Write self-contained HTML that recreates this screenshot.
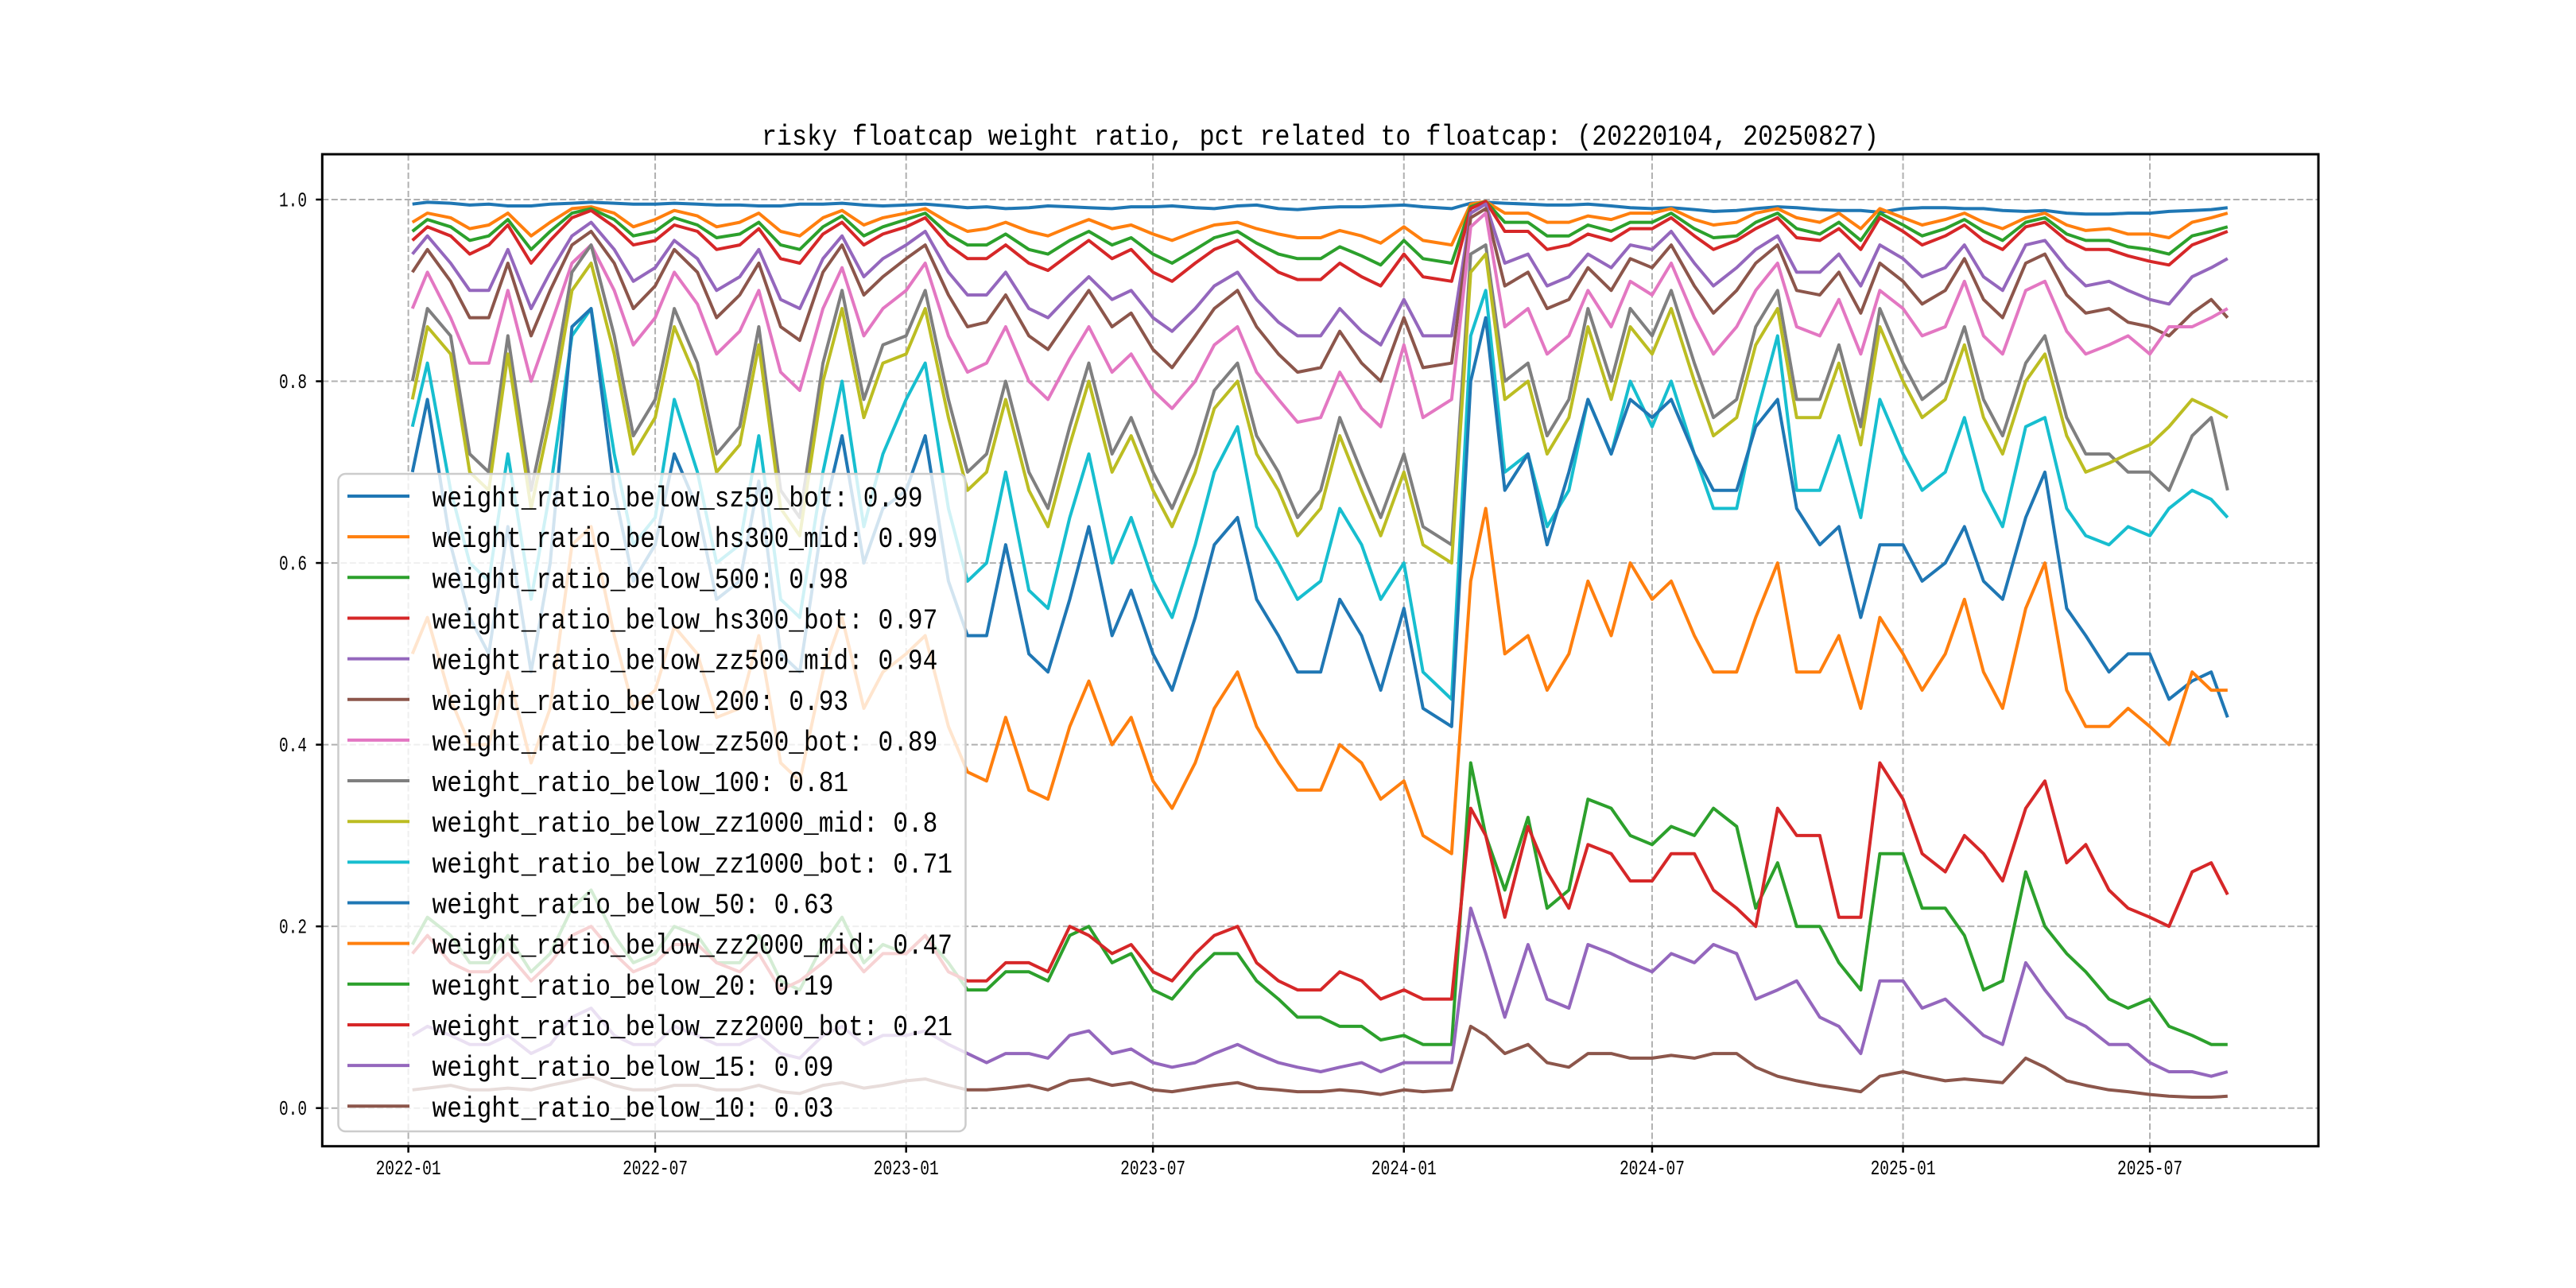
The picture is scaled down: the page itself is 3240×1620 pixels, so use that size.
<!DOCTYPE html>
<html><head><meta charset="utf-8"><style>
html,body{margin:0;padding:0;background:#fff;}
svg{display:block;}
</style></head><body>
<svg id="chart" xmlns="http://www.w3.org/2000/svg" width="3240" height="1620" viewBox="0 0 3240 1620">
<rect x="0" y="0" width="3240" height="1620" fill="#fff"/>
<text x="958" y="182" font-family="Liberation Mono, monospace" font-size="36" textLength="1405" lengthAdjust="spacingAndGlyphs">risky floatcap weight ratio, pct related to floatcap: (20220104, 20250827)</text>
<g id="grid"></g>
<g id="series"></g>
<g id="axes"></g>
<g id="legend"></g>
</svg>
<script>
const dates = [
"2022-01-04","2022-01-15","2022-02-01","2022-02-15","2022-03-01","2022-03-15","2022-04-01","2022-04-15","2022-05-01","2022-05-15","2022-06-01","2022-06-15","2022-07-01","2022-07-15","2022-08-01","2022-08-15","2022-09-01","2022-09-15","2022-10-01","2022-10-15","2022-11-01","2022-11-15","2022-12-01","2022-12-15",
"2023-01-01","2023-01-15","2023-02-01","2023-02-15","2023-03-01","2023-03-15","2023-04-01","2023-04-15","2023-05-01","2023-05-15","2023-06-01","2023-06-15","2023-07-01","2023-07-15","2023-08-01","2023-08-15","2023-09-01","2023-09-15","2023-10-01","2023-10-15","2023-11-01","2023-11-15","2023-12-01","2023-12-15",
"2024-01-01","2024-01-15","2024-02-05","2024-02-19","2024-03-01","2024-03-15","2024-04-01","2024-04-15","2024-05-01","2024-05-15","2024-06-01","2024-06-15","2024-07-01","2024-07-15","2024-08-01","2024-08-15","2024-09-01","2024-09-15","2024-10-01","2024-10-15","2024-11-01","2024-11-15","2024-12-01","2024-12-15",
"2025-01-01","2025-01-15","2025-02-01","2025-02-15","2025-03-01","2025-03-15","2025-04-01","2025-04-15","2025-05-01","2025-05-15","2025-06-01","2025-06-15","2025-07-01","2025-07-15","2025-08-01","2025-08-15","2025-08-27"];
const seriesNames = ["weight_ratio_below_sz50_bot","weight_ratio_below_hs300_mid","weight_ratio_below_500","weight_ratio_below_hs300_bot","weight_ratio_below_zz500_mid","weight_ratio_below_200","weight_ratio_below_zz500_bot","weight_ratio_below_100","weight_ratio_below_zz1000_mid","weight_ratio_below_zz1000_bot","weight_ratio_below_50","weight_ratio_below_zz2000_mid","weight_ratio_below_20","weight_ratio_below_zz2000_bot","weight_ratio_below_15","weight_ratio_below_10"];
const legendValues = ["0.99","0.99","0.98","0.97","0.94","0.93","0.89","0.81","0.8","0.71","0.63","0.47","0.19","0.21","0.09","0.03"];
const sz50Bot = [.995,.997,.996,.994,.995,.993,.993,.995,.996,.997,.996,.995,.995,.996,.995,.994,.994,.993,.993,.995,.995,.996,.994,.993,
.994,.995,.993,.991,.992,.990,.991,.993,.992,.991,.990,.992,.992,.993,.991,.990,.993,.994,.990,.989,.991,.992,.992,.993,
.994,.992,.990,.996,.997,.996,.995,.994,.994,.995,.993,.991,.990,.991,.989,.987,.988,.990,.992,.991,.989,.988,.988,.986,
.990,.991,.991,.990,.990,.988,.987,.988,.985,.984,.984,.985,.985,.987,.988,.989,.991];
const hs300Mid = [.975,.985,.980,.968,.972,.985,.960,.975,.990,.992,.985,.970,.978,.988,.982,.970,.975,.985,.965,.960,.980,.988,.972,.980,
.985,.990,.975,.965,.968,.975,.965,.960,.970,.978,.968,.972,.962,.955,.965,.972,.975,.968,.962,.958,.958,.966,.960,.952,
.970,.955,.950,.995,.998,.985,.985,.975,.975,.982,.978,.985,.985,.990,.978,.972,.975,.985,.990,.980,.975,.985,.968,.990,
.980,.972,.978,.985,.975,.968,.980,.985,.972,.966,.968,.962,.962,.958,.975,.980,.985];
const below500 = [.965,.978,.970,.955,.960,.978,.945,.965,.985,.990,.978,.960,.965,.980,.972,.958,.962,.975,.950,.945,.970,.982,.960,.970,
.978,.985,.962,.950,.950,.962,.945,.940,.955,.965,.950,.958,.940,.930,.945,.958,.965,.952,.940,.935,.935,.948,.938,.928,
.955,.935,.930,.992,.998,.975,.975,.960,.960,.972,.965,.975,.975,.985,.968,.958,.960,.975,.985,.968,.962,.975,.955,.985,
.972,.960,.968,.978,.965,.955,.975,.980,.962,.955,.955,.948,.945,.940,.960,.965,.970];
const hs300Bot = [.955,.970,.960,.940,.950,.972,.930,.955,.980,.988,.970,.950,.955,.972,.965,.945,.950,.968,.935,.930,.962,.975,.950,.962,
.970,.980,.950,.935,.935,.950,.930,.922,.940,.955,.935,.945,.920,.910,.930,.945,.955,.938,.920,.912,.912,.930,.915,.905,
.940,.915,.910,.990,.998,.965,.965,.945,.950,.962,.955,.968,.968,.980,.960,.945,.955,.968,.980,.958,.955,.968,.945,.980,
.965,.950,.960,.972,.955,.945,.970,.975,.955,.945,.945,.938,.932,.928,.950,.958,.965];
const zz500Mid = [.940,.960,.930,.900,.900,.945,.880,.920,.960,.975,.945,.910,.925,.955,.935,.900,.915,.945,.890,.880,.935,.960,.915,.935,
.950,.965,.920,.895,.895,.920,.880,.870,.895,.915,.890,.900,.870,.855,.880,.905,.920,.890,.865,.850,.850,.880,.855,.840,
.890,.850,.850,.985,.995,.930,.940,.905,.915,.940,.925,.950,.945,.965,.930,.905,.925,.945,.960,.920,.920,.940,.905,.950,
.935,.915,.925,.950,.915,.900,.950,.955,.925,.905,.910,.900,.890,.885,.915,.925,.935];
const below200 = [.920,.945,.910,.870,.870,.930,.850,.900,.950,.965,.930,.880,.905,.945,.920,.870,.895,.930,.860,.845,.920,.950,.895,.915,
.935,.950,.895,.860,.865,.895,.850,.835,.870,.900,.860,.875,.835,.815,.850,.880,.900,.860,.830,.810,.815,.855,.820,.800,
.870,.815,.820,.980,.990,.905,.920,.880,.890,.925,.900,.935,.925,.950,.905,.875,.900,.930,.950,.900,.895,.920,.875,.930,
.910,.885,.900,.935,.890,.870,.930,.940,.895,.875,.880,.865,.860,.850,.875,.890,.870];
const zz500Bot = [.880,.920,.870,.820,.820,.900,.800,.860,.930,.950,.900,.840,.870,.920,.885,.830,.855,.900,.810,.790,.880,.925,.850,.880,
.900,.930,.850,.810,.820,.860,.800,.780,.825,.860,.810,.830,.790,.770,.800,.840,.860,.810,.780,.755,.760,.810,.770,.750,
.840,.760,.780,.970,.985,.860,.880,.830,.850,.900,.860,.910,.895,.930,.870,.830,.860,.900,.930,.860,.850,.890,.830,.900,
.880,.850,.860,.910,.850,.830,.900,.910,.855,.830,.840,.850,.830,.860,.860,.870,.880];
const below100 = [.800,.880,.850,.720,.700,.850,.680,.780,.920,.950,.850,.740,.780,.880,.820,.720,.750,.860,.680,.650,.820,.900,.780,.840,
.850,.900,.780,.700,.720,.800,.700,.660,.750,.820,.720,.760,.700,.660,.720,.790,.820,.740,.700,.650,.680,.760,.700,.650,
.720,.640,.620,.940,.950,.800,.820,.740,.780,.880,.800,.880,.850,.900,.820,.760,.780,.860,.900,.780,.780,.840,.750,.880,
.820,.780,.800,.860,.780,.740,.820,.850,.760,.720,.720,.700,.700,.680,.740,.760,.680];
const zz1000Mid = [.780,.860,.830,.700,.680,.830,.660,.760,.900,.930,.830,.720,.760,.860,.800,.700,.730,.840,.660,.630,.800,.880,.760,.820,
.830,.880,.760,.680,.700,.780,.680,.640,.730,.800,.700,.740,.680,.640,.700,.770,.800,.720,.680,.630,.660,.740,.680,.630,
.700,.620,.600,.920,.940,.780,.800,.720,.760,.860,.780,.860,.830,.880,.800,.740,.760,.840,.880,.760,.760,.820,.730,.860,
.800,.760,.780,.840,.760,.720,.800,.830,.740,.700,.710,.720,.730,.750,.780,.770,.760];
const zz1000Bot = [.750,.820,.680,.600,.580,.720,.560,.680,.850,.880,.720,.620,.650,.780,.700,.600,.620,.740,.560,.540,.700,.800,.640,.720,
.780,.820,.660,.580,.600,.700,.570,.550,.650,.720,.600,.650,.580,.540,.620,.700,.750,.640,.600,.560,.580,.660,.620,.560,
.600,.480,.450,.850,.900,.700,.720,.640,.680,.780,.720,.800,.750,.800,.720,.660,.660,.760,.850,.680,.680,.740,.650,.780,
.720,.680,.700,.760,.680,.640,.750,.760,.660,.630,.620,.640,.630,.660,.680,.670,.650];
const below50 = [.700,.780,.620,.540,.500,.640,.480,.600,.860,.880,.680,.580,.620,.720,.660,.560,.580,.690,.500,.480,.650,.740,.600,.660,
.680,.740,.580,.520,.520,.620,.500,.480,.560,.640,.520,.570,.500,.460,.540,.620,.650,.560,.520,.480,.480,.560,.520,.460,
.550,.440,.420,.800,.870,.680,.720,.620,.700,.780,.720,.780,.760,.780,.720,.680,.680,.750,.780,.660,.620,.640,.540,.620,
.620,.580,.600,.640,.580,.560,.650,.700,.550,.520,.480,.500,.500,.450,.470,.480,.430];
const zz2000Mid = [.500,.540,.450,.400,.400,.480,.380,.440,.620,.640,.520,.440,.460,.530,.500,.430,.440,.520,.380,.360,.480,.540,.440,.480,
.500,.520,.420,.370,.360,.430,.350,.340,.420,.470,.400,.430,.360,.330,.380,.440,.480,.420,.380,.350,.350,.400,.380,.340,
.360,.300,.280,.580,.660,.500,.520,.460,.500,.580,.520,.600,.560,.580,.520,.480,.480,.540,.600,.480,.480,.520,.440,.540,
.500,.460,.500,.560,.480,.440,.550,.600,.460,.420,.420,.440,.420,.400,.480,.460,.460];
const below20 = [.180,.210,.190,.160,.160,.190,.150,.170,.220,.240,.190,.160,.170,.200,.190,.160,.160,.190,.140,.130,.180,.210,.160,.180,
.170,.190,.160,.130,.130,.150,.150,.140,.190,.200,.160,.170,.130,.120,.150,.170,.170,.140,.120,.100,.100,.090,.090,.075,
.080,.070,.070,.380,.300,.240,.320,.220,.240,.340,.330,.300,.290,.310,.300,.330,.310,.220,.270,.200,.200,.160,.130,.280,
.280,.220,.220,.190,.130,.140,.260,.200,.170,.150,.120,.110,.120,.090,.080,.070,.070];
const zz2000Bot = [.170,.190,.160,.150,.150,.170,.140,.160,.190,.200,.170,.150,.160,.180,.180,.160,.150,.170,.130,.140,.160,.180,.150,.170,
.170,.190,.150,.140,.140,.160,.160,.150,.200,.190,.170,.180,.150,.140,.170,.190,.200,.160,.140,.130,.130,.150,.140,.120,
.130,.120,.120,.330,.300,.210,.310,.260,.220,.290,.280,.250,.250,.280,.280,.240,.220,.200,.330,.300,.300,.210,.210,.380,
.340,.280,.260,.300,.280,.250,.330,.360,.270,.290,.240,.220,.210,.200,.260,.270,.235];
const below15 = [.080,.090,.080,.070,.070,.080,.060,.070,.100,.110,.080,.070,.070,.090,.080,.070,.070,.080,.060,.055,.080,.090,.070,.080,
.080,.085,.070,.060,.050,.060,.060,.055,.080,.085,.060,.065,.050,.045,.050,.060,.070,.060,.050,.045,.040,.045,.050,.040,
.050,.050,.050,.220,.170,.100,.180,.120,.110,.180,.170,.160,.150,.170,.160,.180,.170,.120,.130,.140,.100,.090,.060,.140,
.140,.110,.120,.100,.080,.070,.160,.130,.100,.090,.070,.070,.050,.040,.040,.035,.040];
const below10 = [.020,.022,.025,.020,.020,.022,.020,.025,.030,.035,.025,.020,.020,.025,.025,.020,.020,.025,.018,.016,.025,.028,.022,.025,
.030,.032,.025,.020,.020,.022,.025,.020,.030,.032,.025,.028,.020,.018,.022,.025,.028,.022,.020,.018,.018,.020,.018,.015,
.020,.018,.020,.090,.080,.060,.070,.050,.045,.060,.060,.055,.055,.058,.055,.060,.060,.045,.035,.030,.025,.022,.018,.035,
.040,.035,.030,.032,.030,.028,.055,.045,.030,.025,.020,.018,.015,.013,.012,.012,.013];
const seriesValues = [sz50Bot,hs300Mid,below500,hs300Bot,zz500Mid,below200,zz500Bot,below100,zz1000Mid,zz1000Bot,below50,zz2000Mid,below20,zz2000Bot,below15,below10];
const xTickLabels = ["2022-01","2022-07","2023-01","2023-07","2024-01","2024-07","2025-01","2025-07"];
const yTickValues = [0,0.2,0.4,0.6,0.8,1.0];
const yTickLabels = ["0.0","0.2","0.4","0.6","0.8","1.0"];

const colors = ["#1f77b4","#ff7f0e","#2ca02c","#d62728","#9467bd","#8c564b","#e377c2","#7f7f7f","#bcbd22","#17becf"];
const NS = "http://www.w3.org/2000/svg";
const AX = {l:405.3, r:2916, t:194, b:1441.7};
const base = Date.UTC(2022,0,1);
function dayOf(s){const p=s.split("-");return (Date.UTC(+p[0],+p[1]-1,+(p[2]||1))-base)/86400000;}
function xScale(s){return 513.6 + dayOf(s)*1.7153;}
function yScale(v){return 1393.7 - v*1142.7;}
function mk(tag, attrs, parent){const e=document.createElementNS(NS,tag);for(const k in attrs)e.setAttribute(k,attrs[k]);parent.appendChild(e);return e;}

const grid=document.getElementById("grid"), series=document.getElementById("series"), axes=document.getElementById("axes"), legend=document.getElementById("legend");

xTickLabels.forEach(t=>{
  const x=xScale(t+"-01");
  const g=mk("line",{x1:x,x2:x,y1:AX.t,y2:AX.b,stroke:"#b0b0b0","stroke-width":2,"stroke-dasharray":"8,3.5"},grid);
  
  
});
yTickValues.forEach(v=>{
  const y=yScale(v);
  const g=mk("line",{x1:AX.l,x2:AX.r,y1:y,y2:y,stroke:"#b0b0b0","stroke-width":2,"stroke-dasharray":"8,3.5"},grid);
  
  
});

seriesValues.forEach((vals,i)=>{
  const d=vals.map((v,j)=>(j?"L":"M")+xScale(dates[j]).toFixed(1)+","+yScale(v).toFixed(1)).join("");
  const p=mk("path",{d:d,fill:"none",stroke:colors[i%10],"stroke-width":4,"stroke-linejoin":"round"},series);
  
  
});

const sp=mk("rect",{x:AX.l,y:AX.t,width:AX.r-AX.l,height:AX.b-AX.t,fill:"none",stroke:"#000","stroke-width":3},axes);


xTickLabels.forEach(t=>{
  const x=xScale(t+"-01");
  const tk=mk("line",{x1:x,x2:x,y1:AX.b,y2:AX.b+8,stroke:"#000","stroke-width":2.5},axes);
  
  
  const tx=mk("text",{x:x,y:1477,"text-anchor":"middle","font-family":"Liberation Mono, monospace","font-size":26,textLength:82,lengthAdjust:"spacingAndGlyphs"},axes);
  tx.textContent=t;
  
  
});
yTickValues.forEach((v,i)=>{
  const y=yScale(v);
  const tk=mk("line",{x1:AX.l-8,x2:AX.l,y1:y,y2:y,stroke:"#000","stroke-width":2.5},axes);
  
  
  const tx=mk("text",{x:386,y:y+8.5,"text-anchor":"end","font-family":"Liberation Mono, monospace","font-size":26,textLength:35,lengthAdjust:"spacingAndGlyphs"},axes);
  tx.textContent=yTickLabels[i];
  
  
});

const lb=mk("rect",{x:425.5,y:596,width:789,height:827,rx:9,ry:9,fill:"#fff","fill-opacity":0.8,stroke:"#cccccc","stroke-width":2.5},legend);


seriesNames.forEach((n,i)=>{
  const cy=624+i*51.15;
  const ln=mk("line",{x1:437,x2:515,y1:cy,y2:cy,stroke:colors[i%10],"stroke-width":4},legend);
  
  
  const label=n+": "+legendValues[i];
  const tx=mk("text",{x:543.5,y:cy+13,"font-family":"Liberation Mono, monospace","font-size":36,textLength:(label.length*18.7).toFixed(1),lengthAdjust:"spacingAndGlyphs"},legend);
  tx.textContent=label;
  
  
});
</script>
</body></html>
